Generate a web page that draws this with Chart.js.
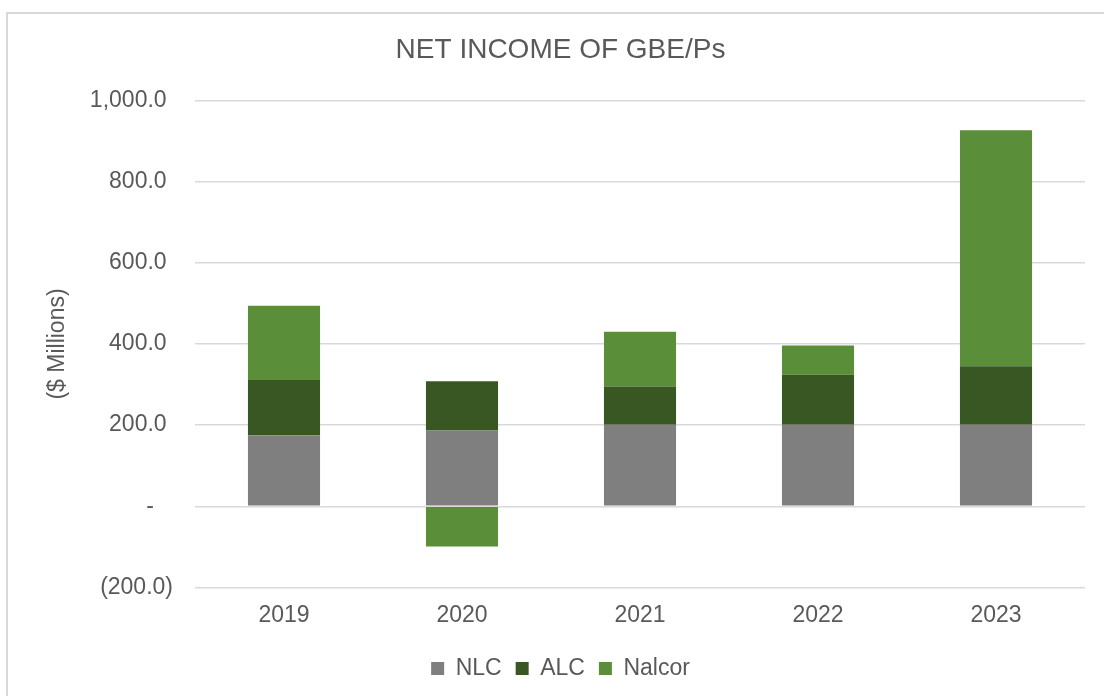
<!DOCTYPE html>
<html>
<head>
<meta charset="utf-8">
<script src="https://cdn.jsdelivr.net/npm/chart.js@4/dist/chart.umd.min.js"></script>
<style>
  html, body { margin: 0; padding: 0; background: #ffffff; overflow: hidden; }
  .wrap { position: relative; width: 1104px; height: 696px; }
  .frame {
    position: absolute; left: 6px; top: 12px;
    width: 1120px; height: 720px;
    border: 2px solid #d9d9d9; box-sizing: border-box;
  }
  #Chart { position: absolute; left: 0; top: 0; }
</style>
</head>
<body>
<div class="wrap">
  <div class="frame"></div>
  <canvas id="Chart" width="1104" height="696"></canvas>
</div>
<script>
const years = ["2019", "2020", "2021", "2022", "2023"];
const nlc = [175, 187, 201, 201, 201];
const alc = [136, 121, 94, 123, 144];
const nalcor = [183, -99, 135, 72, 582];

const textColor = "#595959";
const fontFamily = "'Liberation Sans', Arial, sans-serif";

// excel style accounting labels: (200.0), -, 1,000.0
function formatTick(value) {
  if (value === 0) return "-   ";
  const s = Math.abs(value).toLocaleString("en-US", {
    minimumFractionDigits: 1,
    maximumFractionDigits: 1,
  });
  return value < 0 ? "(" + s + ")" : s + " ";
}

const datasets = [
  { label: "NLC", data: nlc, backgroundColor: "#7f7f7f" },
  { label: "ALC", data: alc, backgroundColor: "#385723" },
  { label: "Nalcor", data: nalcor, backgroundColor: "#5b8e39" },
].map((d) => ({
  ...d,
  barPercentage: 0.405,
  categoryPercentage: 1,
  borderWidth: 0,
}));

const ctx = document.getElementById("Chart");
new Chart(ctx, {
  type: "bar",
  data: {
    labels: years,
    datasets: datasets,
  },
  options: {
    responsive: false,
    animation: false,
    layout: {
      padding: { left: 36, right: 19, top: 0, bottom: 6 },
    },
    plugins: {
      title: {
        display: true,
        text: "NET INCOME OF GBE/Ps",
        color: textColor,
        font: { family: fontFamily, size: 28, weight: "normal" },
        padding: { top: 33, bottom: 34 },
      },
      legend: {
        position: "bottom",
        labels: {
          color: textColor,
          font: { family: fontFamily, size: 23 },
          boxWidth: 13,
          boxHeight: 13,
          padding: 14,
        },
      },
      tooltip: { enabled: false },
    },
    scales: {
      x: {
        stacked: true,
        grid: { display: false, drawTicks: false },
        border: { display: false },
        ticks: {
          color: textColor,
          font: { family: fontFamily, size: 23 },
          padding: 14,
        },
      },
      y: {
        stacked: true,
        min: -200,
        max: 1000,
        afterFit: (scale) => {
          scale.width = 159;
        },
        ticks: {
          stepSize: 200,
          color: textColor,
          font: { family: fontFamily, size: 23 },
          padding: 22,
          callback: (value) => formatTick(value),
        },
        grid: {
          color: "#d9d9d9",
          lineWidth: 1.5,
          drawTicks: false,
        },
        border: { display: false },
        title: {
          display: true,
          text: "($ Millions)",
          color: textColor,
          font: { family: fontFamily, size: 23 },
          padding: { top: 8, bottom: 0 },
        },
      },
    },
  },
});
</script>
</body>
</html>
